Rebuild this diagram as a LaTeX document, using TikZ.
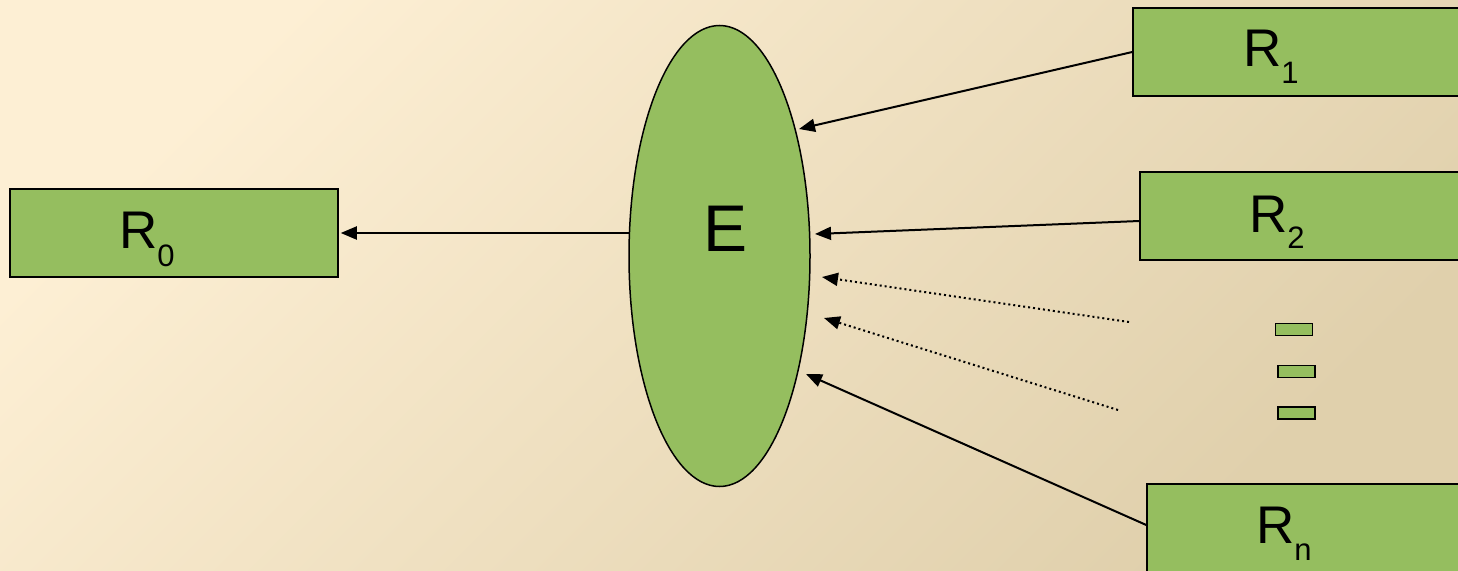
\documentclass[tikz,border=0pt]{standalone}
\usepackage{fontspec}
\setmainfont{Liberation Sans}
\usetikzlibrary{arrows.meta,shapes.geometric}
\definecolor{bgTL}{HTML}{FDEFD4}
\definecolor{bgBR}{HTML}{E0D0AC}
\definecolor{mygreen}{HTML}{95BE5F}
\begin{document}
\begin{tikzpicture}[x=1pt,y=-1pt,
  box/.style={draw=black, fill=mygreen, line width=1.5pt, rectangle, inner sep=0pt,
    minimum width=328pt, minimum height=88pt},
  bar/.style={draw=black, fill=mygreen, line width=1.5pt, rectangle, inner sep=0pt,
    minimum width=37pt, minimum height=12pt},
  lbl/.style={anchor=base west, inner sep=0pt, font=\fontsize{53}{60}\selectfont},
  conn/.style={line width=2pt, -{Triangle[length=16pt,width=13pt]}},
  dotconn/.style={conn, dash pattern=on 2pt off 3pt}]
\path[use as bounding box] (0,0) rectangle (1458,570);
\clip (0,0) rectangle (1458,570);
\shade[top color=bgTL, bottom color=bgBR, shading angle=45]
  (0,0) rectangle (1458,570);

% boxes
\node[box] (R0) at (174,233) {};
\node[box] (R1) at (1297,52) {};
\node[box] (R2) at (1304,216) {};
\node[box] (Rn) at (1311,528) {};

\node[lbl] (R0t) at (119,248) {R\raisebox{-18pt}{\fontsize{31}{31}\selectfont 0}};
\node[lbl] (R1t) at (1243,66) {R\raisebox{-17pt}{\fontsize{31}{31}\selectfont 1}};
\node[lbl] (R2t) at (1249,232) {R\raisebox{-16pt}{\fontsize{31}{31}\selectfont 2}};
\node[lbl] (Rnt) at (1256,543) {R\raisebox{-17pt}{\fontsize{31}{31}\selectfont n}};

% small bars
\node[bar] (b1) at (1294,329.5) {};
\node[bar] (b2) at (1296.5,371.5) {};
\node[bar] (b3) at (1296.5,413) {};

% ellipse
\node[draw=black, fill=mygreen, line width=1.5pt, ellipse, inner sep=0pt,
  minimum width=181pt, minimum height=461pt] (E) at (719.5,256) {};
\node[anchor=base west, inner sep=0pt, font=\fontsize{66}{70}\selectfont] (Et) at (703,251) {E};

% connector end points
\coordinate (e0) at (629,233);
\coordinate (t1) at (799,129);
\coordinate (t2) at (815,234);
\coordinate (tn) at (806,374);
\coordinate (d1s) at (1129,322);
\coordinate (d1e) at (822,277);
\coordinate (d2s) at (1118,410);
\coordinate (d2e) at (824,318);

% connectors
\draw[conn, shorten >=2pt] (e0) -- (R0.east);
\draw[conn] (R1.west) -- (t1);
\draw[conn] ([yshift=-5pt]R2.west) -- (t2);
\draw[conn] ([yshift=3pt]Rn.west) -- (tn);
\draw[dotconn] (d1s) -- (d1e);
\draw[dotconn] (d2s) -- (d2e);
\end{tikzpicture}
\end{document}
